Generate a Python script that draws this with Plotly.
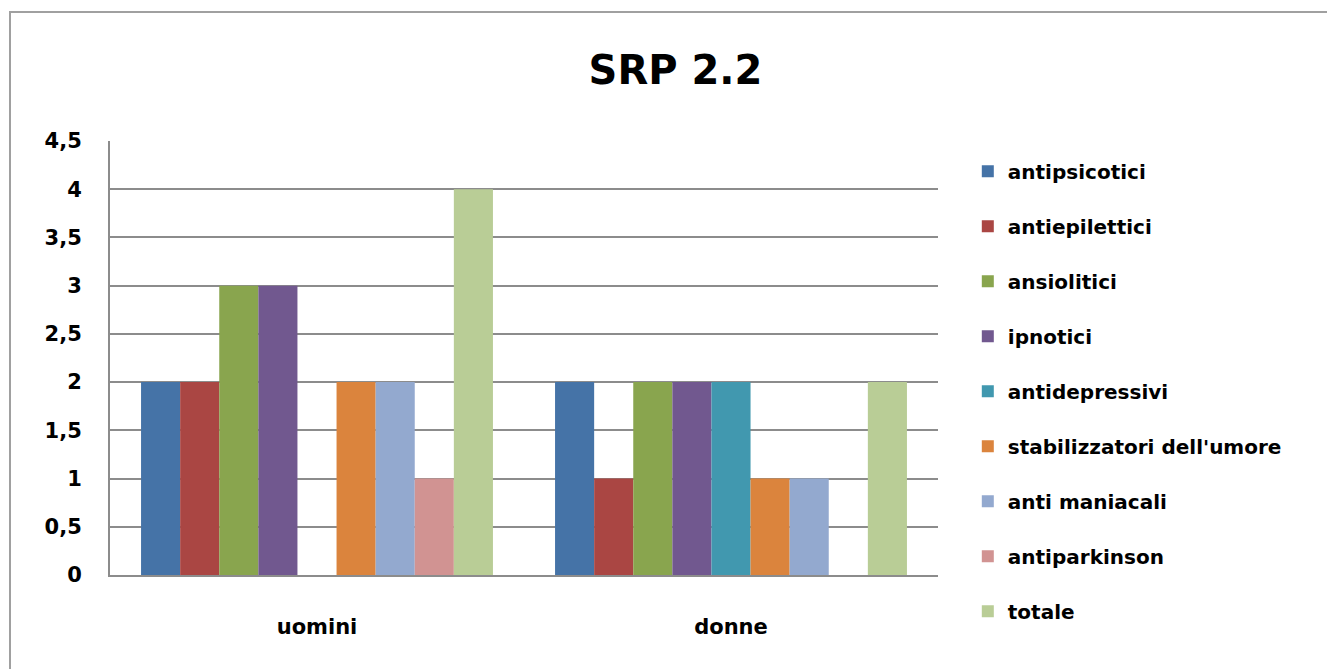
import plotly.graph_objects as go

# dati del grafico SRP 2.2
categorie = ['uomini', 'donne']
serie = ['antipsicotici', 'antiepilettici', 'ansiolitici', 'ipnotici', 'antidepressivi',
         "stabilizzatori dell'umore", 'anti maniacali', 'antiparkinson', 'totale']
antipsicotici = [2, 2]
antiepilettici = [2, 1]
ansiolitici = [3, 2]
ipnotici = [3, 2]
antidepressivi = [0, 2]
stabilizzatori = [2, 1]
anti_maniacali = [2, 1]
antiparkinson = [1, 0]
totale = [4, 2]
valori = [antipsicotici, antiepilettici, ansiolitici, ipnotici, antidepressivi,
          stabilizzatori, anti_maniacali, antiparkinson, totale]
colori = ['#4573A7', '#AA4643', '#89A54E', '#71588F', '#4198AF',
          '#DB843D', '#93A9CF', '#D19392', '#B9CD96']

font_base = 'DejaVu Sans, Verdana, sans-serif'

fig = go.Figure()
for nome, v, c in zip(serie, valori, colori):
    fig.add_trace(go.Bar(x=categorie, y=v, name=nome, marker_color=c,
                         marker_line_width=0, legendgroup=nome))

# la pagina ha 8px di margine nel body: figura un po' più piccola
fig.update_layout(
    width=1327, height=661,
    paper_bgcolor='white', plot_bgcolor='white',
    separators=',.',
    barmode='group', bargap=0.15, bargroupgap=0,
    margin=dict(l=102, r=397, t=133, b=94),
    font=dict(family=font_base, size=21, color='black', weight='bold'),
    title=dict(text='SRP 2.2', x=0.503, xanchor='center', y=0.906, yanchor='middle',
               font=dict(size=40, family=font_base, weight='bold')),
    legend=dict(x=1.036, xanchor='left', y=0.975, yanchor='top',
                font=dict(size=20), tracegroupgap=26, itemwidth=30, maxheight=640),
    showlegend=True,
)
fig.update_yaxes(range=[0, 4.5], dtick=0.5, showgrid=True, gridcolor='#8C8C8C', gridwidth=2,
                 showline=True, linecolor='#8C8C8C', linewidth=2, zeroline=False,
                 ticks='outside', ticklen=22, tickcolor='rgba(0,0,0,0)',
                 tickfont=dict(size=21))
fig.update_xaxes(showline=True, linecolor='#8C8C8C', linewidth=2, mirror=False,
                 ticks='outside', ticklen=32, tickcolor='rgba(0,0,0,0)',
                 tickfont=dict(size=21))

# cornice esterna del grafico (lato destro e inferiore fuori pagina)
fig.add_shape(type='rect', xref='paper', yref='paper',
              x0=-100 / 828, x1=1.6, y0=-130 / 434, y1=1 + 129 / 434,
              line=dict(color='#A0A0A0', width=2), layer='below')

fig.write_html('out.html')
